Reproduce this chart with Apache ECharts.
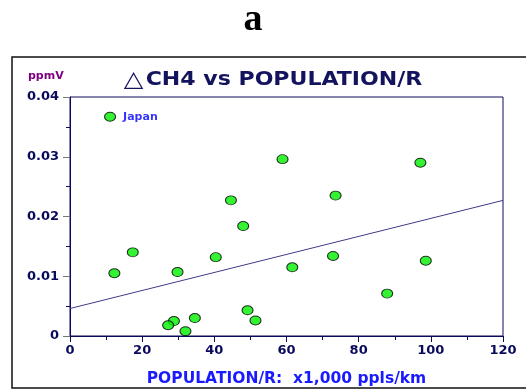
<!DOCTYPE html>
<html>
<head>
<meta charset="utf-8">
<script src="https://cdn.jsdelivr.net/npm/echarts@6/dist/echarts.min.js"></script>
<style>
  html, body { margin: 0; padding: 0; background: #fff; }
  #app { width: 526px; height: 392px; }
</style>
</head>
<body>
<div id="app"></div>
<script>
// values
const population = [11.1, 58.9, 97.1, 44.6, 73.6, 48.0, 17.4, 12.3, 29.8, 40.4,
  61.6, 72.9, 98.6, 87.9, 49.2, 51.4, 34.6, 28.8, 27.2, 32.0];
const dch4 = [0.0367, 0.0296, 0.0290, 0.0227, 0.0235, 0.0184, 0.0140, 0.0105, 0.0107, 0.0132,
  0.0115, 0.0134, 0.0126, 0.0071, 0.0043, 0.0026, 0.0030, 0.0025, 0.0018, 0.0008];
const pointNames = ["Japan"];
const trendX = [0, 120];
const trendY = [0.0046, 0.0227];

const navy = "#0a0a5c";
const font = "DejaVu Sans";

const myChart = echarts.init(document.getElementById("app"));

const points = population.map((x, i) => {
  const item = { value: [x, dch4[i]] };
  if (pointNames[i]) {
    item.name = pointNames[i];
    item.label = {
      show: true,
      position: "right",
      distance: 7,
      formatter: "{b}",
      color: "#0000ff",
      fontFamily: font,
      fontWeight: "bold",
      fontSize: 11,
    };
  }
  return item;
});

myChart.setOption({
  animation: false,
  graphic: [
    {
      type: "text",
      x: 253,
      y: 20,
      style: {
        text: "a",
        textAlign: "center",
        textVerticalAlign: "middle",
        font: "bold 38px 'Liberation Serif'",
        fill: "#000",
      },
    },
    {
      // wide, spaced-out title of the original
      type: "text",
      x: 273,
      y: 80,
      scaleX: 1.16,
      style: {
        text: "{t|\u25B3}CH4 vs POPULATION/R",
        textAlign: "center",
        textVerticalAlign: "middle",
        font: "bold 19px 'DejaVu Sans'",
        fill: "#14145e",
        rich: {
          t: { fontSize: 22, fontWeight: "bold", fontFamily: font, fill: "#14145e", padding: [0, 2, 0, 0] },
        },
      },
    },
    {
      type: "rect",
      shape: { x: 12, y: 57, width: 530, height: 331 },
      style: { fill: null, stroke: "#111", lineWidth: 1.5 },
    },
    {
      type: "text",
      left: 28,
      top: 71,
      style: { text: "ppmV", fill: "#800080", font: "bold 11px DejaVu Sans" },
    },
  ],
  grid: {
    left: 70,
    right: 23,
    top: 97,
    bottom: 55,
    show: true,
    borderColor: navy,
    borderWidth: 1,
  },
  xAxis: {
    type: "value",
    min: 0,
    max: 120,
    interval: 20,
    name: "POPULATION/R:  x1,000 ppls/km",
    nameLocation: "middle",
    nameGap: 35,
    nameTextStyle: { fontFamily: font, fontWeight: "bold", fontSize: 15.5, color: "#1a1aff" },
    axisLine: { lineStyle: { color: navy } },
    axisTick: { length: 6, lineStyle: { color: navy } },
    minorTick: { show: true, splitNumber: 2, length: 4, lineStyle: { color: navy } },
    splitLine: { show: false },
    axisLabel: { fontFamily: font, fontWeight: "bold", fontSize: 13, color: navy, margin: 8 },
  },
  yAxis: {
    type: "value",
    min: 0,
    max: 0.04,
    interval: 0.01,
    axisLine: { show: true, lineStyle: { color: navy } },
    axisTick: { show: true, length: 7, lineStyle: { color: "#777" } },
    minorTick: { show: true, splitNumber: 2, length: 4, lineStyle: { color: navy } },
    splitLine: { show: false },
    axisLabel: { fontFamily: font, fontWeight: "bold", fontSize: 13, color: navy, margin: 11 },
  },
  series: [
    {
      type: "line",
      data: trendX.map((x, i) => [x, trendY[i]]),
      symbol: "none",
      lineStyle: { color: "#3c3c8c", width: 1 },
      z: 1,
    },
    {
      type: "scatter",
      data: points,
      symbol: "circle",
      symbolSize: [11, 9],
      itemStyle: { color: "#00f000", borderColor: "#000", borderWidth: 1 },
      z: 3,
    },
  ],
});
</script>
</body>
</html>
